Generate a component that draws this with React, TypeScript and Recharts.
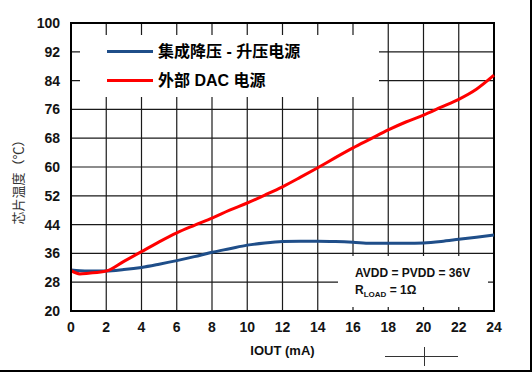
import React from "react";
import {
  LineChart,
  Line,
  XAxis,
  YAxis,
  CartesianGrid,
  Legend,
  ReferenceArea,
} from "recharts";

// IOUT (mA) sample points
const iout = [0, 0.5, 1, 2, 3, 4, 5, 6, 7, 8, 9, 10, 11, 12, 13, 14, 15, 16, 17, 18, 19, 20, 21, 22, 23, 24];
// 集成降压 - 升压电源 (blue)
const integratedTemp = [31.4, 31.2, 31.1, 31.1, 31.5, 32.1, 33.0, 34.0, 35.1, 36.3, 37.3, 38.3, 38.9, 39.3, 39.4, 39.4, 39.3, 39.1, 38.8, 38.8, 38.8, 38.9, 39.3, 39.9, 40.5, 41.1];
// 外部 DAC 电源 (red)
const externalTemp = [31.2, 30.3, 30.5, 31.1, 33.8, 36.5, 39.2, 41.7, 43.8, 45.8, 48.0, 50.0, 52.2, 54.5, 57.1, 59.8, 62.6, 65.3, 67.8, 70.3, 72.5, 74.4, 76.6, 78.8, 81.6, 85.5];

const xTicks = [0, 2, 4, 6, 8, 10, 12, 14, 16, 18, 20, 22, 24];
const yTicks = [20, 28, 36, 44, 52, 60, 68, 76, 84, 92, 100];

const seriesNames = ["集成降压 - 升压电源", "外部 DAC 电源"];
const seriesColors = ["#1f4e89", "#ff0000"];

const data = iout.map((x, i) => ({
  x,
  integrated: integratedTemp[i],
  external: externalTemp[i],
}));

const tickStyle = {
  fontFamily: "'Liberation Sans', Arial, sans-serif",
  fontSize: 14,
  fontWeight: 700,
  fill: "#141414",
};

const LegendBox = ({ payload }: any) => {
  // keep the series order, recharts sorts legend items by name
  const items = [...(payload || [])].sort(
    (a: any, b: any) => seriesNames.indexOf(a.value) - seriesNames.indexOf(b.value)
  );
  return (
    <div style={{ width: 299, height: 62, background: "#fff", paddingTop: 2, boxSizing: "border-box" }}>
      {items.map((entry: any, idx: number) => (
        <div key={idx} style={{ display: "flex", alignItems: "center", height: 29 }}>
          <div style={{ marginLeft: 27, width: 46, height: 3, background: entry.color }} />
          <span
            style={{
              marginLeft: 5,
              fontFamily: "'Liberation Sans', 'Noto Sans CJK SC', sans-serif",
              fontWeight: 700,
              fontSize: 16,
              color: "#000",
              lineHeight: "16px",
            }}
          >
            {entry.value}
          </span>
        </div>
      ))}
    </div>
  );
};

const YTitle = ({ viewBox }: any) => {
  const cx = viewBox.x + 17;
  const cy = viewBox.y + viewBox.height / 2 + 12;
  return (
    <text
      x={cx}
      y={cy}
      transform={`rotate(-90, ${cx}, ${cy})`}
      textAnchor="middle"
      dominantBaseline="central"
      fontFamily="'Noto Sans CJK SC', sans-serif"
      fontSize={13}
      fill="#333"
      stroke="none"
    >
      芯片温度（℃）
    </text>
  );
};

export default function App() {
  return (
    <div
      style={{
        position: "absolute",
        left: 0,
        top: 0,
        width: 532,
        height: 372,
        background: "#fff",
        borderRight: "2px solid #000",
        borderBottom: "2px solid #000",
        boxSizing: "border-box",
      }}
    >
      <LineChart width={532} height={372} data={data} margin={{ top: 23, right: 38, left: 0, bottom: 0 }}>
        <CartesianGrid stroke="#1a1a1a" strokeWidth={1.2} horizontalValues={yTicks} verticalValues={xTicks} />
        <XAxis
          dataKey="x"
          type="number"
          domain={[0, 24]}
          ticks={xTicks}
          interval={0}
          height={61}
          tick={tickStyle}
          tickLine={false}
          tickSize={6}
          tickMargin={5}
          axisLine={{ stroke: "#000", strokeWidth: 2 }}
          label={{
            value: "IOUT (mA)",
            position: "insideBottom",
            offset: 17,
            style: { fontFamily: "'Liberation Sans', Arial, sans-serif", fontSize: 13, fontWeight: 700, fill: "#111" },
          }}
        />
        <YAxis
          type="number"
          domain={[20, 100]}
          ticks={yTicks}
          interval={0}
          width={71}
          tick={tickStyle}
          tickLine={false}
          tickSize={6}
          tickMargin={5}
          axisLine={{ stroke: "#000", strokeWidth: 2 }}
          label={<YTitle />}
        />
        <ReferenceArea
          x1={0}
          x2={24}
          y1={20}
          y2={100}
          fill="none"
          stroke="#000"
          strokeWidth={2}
          ifOverflow="visible"
        />
        <Legend
          layout="vertical"
          align="center"
          verticalAlign="middle"
          content={<LegendBox />}
          wrapperStyle={{ left: 80, top: 35, width: 299, height: 62 }}
        />
        <Line
          type="monotone"
          dataKey="integrated"
          name={seriesNames[0]}
          stroke={seriesColors[0]}
          strokeWidth={3}
          dot={false}
          isAnimationActive={false}
        />
        <Line
          type="monotone"
          dataKey="external"
          name={seriesNames[1]}
          stroke={seriesColors[1]}
          strokeWidth={3}
          dot={false}
          isAnimationActive={false}
        />
      </LineChart>
      <div
        style={{
          position: "absolute",
          left: 338,
          top: 256,
          width: 150,
          height: 51,
          background: "#fff",
          fontFamily: "'Liberation Sans', Arial, sans-serif",
          fontWeight: 700,
          fontSize: 12,
          color: "#111",
          boxSizing: "border-box",
          paddingLeft: 17,
          paddingTop: 9,
          lineHeight: "17px",
        }}
      >
        <div>AVDD = PVDD = 36V</div>
        <div>
          R<sub style={{ fontSize: 8, verticalAlign: "-3px" }}>LOAD</sub> = 1Ω
        </div>
      </div>
      {/* scan mark below the plot */}
      <div style={{ position: "absolute", left: 385, top: 356, width: 73, height: 1, background: "#333" }} />
      <div style={{ position: "absolute", left: 424, top: 347, width: 1, height: 19, background: "#333" }} />
    </div>
  );
}
